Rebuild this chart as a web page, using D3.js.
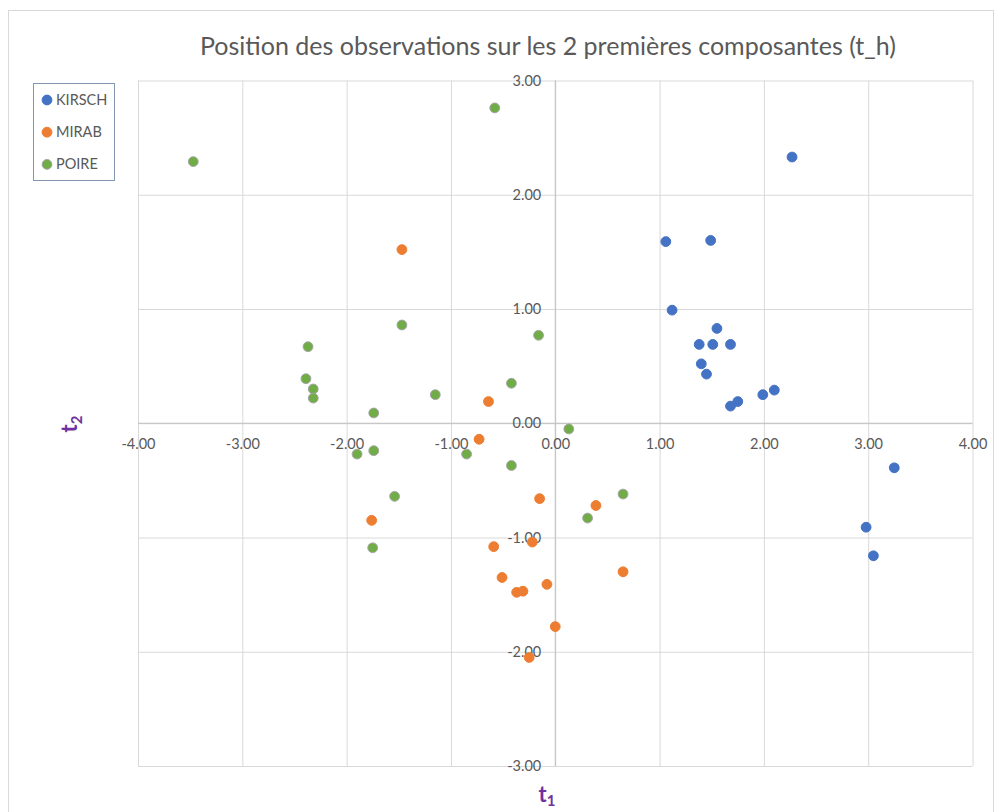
<!DOCTYPE html>
<html>
<head>
<meta charset="utf-8">
<script src="https://cdn.jsdelivr.net/npm/d3@7"></script>
<style>
  body { margin: 0; background: #fff; }
  text { font-family: Lato, "Open Sans", sans-serif; }
</style>
</head>
<body>
<svg id="chart" width="996" height="812"></svg>
<script>
var categories = ["KIRSCH", "MIRAB", "POIRE"];

var kirschT1 = [2.27, 1.06, 1.49, 1.12, 1.55, 1.38, 1.51, 1.68, 1.40, 1.45, 2.10, 1.99, 1.75, 1.68, 3.25, 2.98, 3.05];
var kirschT2 = [2.33, 1.59, 1.60, 0.99, 0.83, 0.69, 0.69, 0.69, 0.52, 0.43, 0.29, 0.25, 0.19, 0.15, -0.39, -0.91, -1.16];

var mirabT1 = [-1.47, -0.64, -0.73, -0.15, 0.39, -1.76, -0.59, -0.22, 0.65, -0.51, -0.08, -0.37, -0.31, 0.00, -0.25];
var mirabT2 = [1.52, 0.19, -0.14, -0.66, -0.72, -0.85, -1.08, -1.04, -1.30, -1.35, -1.41, -1.48, -1.47, -1.78, -2.05];

var poireT1 = [-3.47, -0.58, -1.47, -2.37, -2.39, -2.32, -2.32, -1.74, -1.74, -1.90, -0.16, -0.42, -1.15, 0.13, -0.85, -0.42, -1.54, -1.75, 0.31, 0.65];
var poireT2 = [2.29, 2.76, 0.86, 0.67, 0.39, 0.30, 0.22, 0.09, -0.24, -0.27, 0.77, 0.35, 0.25, -0.05, -0.27, -0.37, -0.64, -1.09, -0.83, -0.62];

var xTicks = [-4, -3, -2, -1, 0, 1, 2, 3, 4];
var yTicks = [-3, -2, -1, 0, 1, 2, 3];

var series = [
  { name: categories[0], t1: kirschT1, t2: kirschT2, fill: "#4472C4", stroke: "#4472C4" },
  { name: categories[1], t1: mirabT1, t2: mirabT2, fill: "#ED7D31", stroke: "#ED7D31" },
  { name: categories[2], t1: poireT1, t2: poireT2, fill: "#70AD47", stroke: "#A5A5A5" }
];

var svg = d3.select("#chart");
var plotLeft = 138, plotRight = 972.5, plotTop = 80.5, plotBottom = 766;

var x = d3.scaleLinear().domain([-4, 4]).range([plotLeft, plotRight]);
var y = d3.scaleLinear().domain([-3, 3]).range([plotBottom, plotTop]);
var fmt = d3.formatLocale({ decimal: ".", thousands: ",", grouping: [3], currency: ["", ""], minus: "-" }).format(".2f");

// chart frame
svg.append("rect")
  .attr("x", 8.5).attr("y", 10.5)
  .attr("width", 985).attr("height", 820)
  .attr("fill", "#fff").attr("stroke", "#D9D9D9");

// grid lines
svg.append("g")
  .attr("transform", "translate(0," + plotBottom + ")")
  .call(d3.axisBottom(x).tickValues(xTicks).tickSize(-(plotBottom - plotTop)).tickFormat(""))
  .call(function(g) { g.select(".domain").remove(); })
  .selectAll("line").attr("stroke", "#D9D9D9");

svg.append("g")
  .attr("transform", "translate(" + plotLeft + ",0)")
  .call(d3.axisLeft(y).tickValues(yTicks).tickSize(-(plotRight - plotLeft)).tickFormat(""))
  .call(function(g) { g.select(".domain").remove(); })
  .selectAll("line").attr("stroke", "#D9D9D9");

// zero axes
svg.append("line")
  .attr("x1", plotLeft).attr("x2", plotRight)
  .attr("y1", y(0)).attr("y2", y(0))
  .attr("stroke", "#BFBFBF");
svg.append("line")
  .attr("x1", x(0)).attr("x2", x(0))
  .attr("y1", plotTop).attr("y2", plotBottom)
  .attr("stroke", "#BFBFBF");

// tick labels
var xAxis = svg.append("g")
  .attr("transform", "translate(0," + y(0) + ")")
  .call(d3.axisBottom(x).tickValues(xTicks).tickSize(0).tickPadding(15).tickFormat(fmt));
xAxis.select(".domain").remove();
xAxis.selectAll("text")
  .style("font-family", "Lato, sans-serif").style("font-size", "14.5px").attr("fill", "#595959");

var yAxis = svg.append("g")
  .attr("transform", "translate(" + x(0) + ",0)")
  .call(d3.axisLeft(y).tickValues(yTicks).tickSize(0).tickPadding(14).tickFormat(fmt));
yAxis.select(".domain").remove();
yAxis.selectAll("text")
  .style("font-family", "Lato, sans-serif").style("font-size", "14.5px").attr("fill", "#595959");

// points
series.forEach(function(s) {
  svg.append("g")
    .selectAll("circle")
    .data(s.t1.map(function(v, i) { return [v, s.t2[i]]; }))
    .enter()
    .append("circle")
    .attr("cx", function(d) { return x(d[0]); })
    .attr("cy", function(d) { return y(d[1]); })
    .attr("r", 4.9)
    .attr("fill", s.fill)
    .attr("stroke", s.stroke)
    .attr("stroke-width", 1);
});

// title
svg.append("text")
  .attr("x", 548).attr("y", 55)
  .attr("text-anchor", "middle")
  .style("font-size", "25px")
  .attr("fill", "#595959")
  .text("Position des observations sur les 2 premières composantes (t_h)");

// axis titles
var t1 = svg.append("text")
  .attr("x", 547).attr("y", 802)
  .attr("text-anchor", "middle")
  .attr("fill", "#7030A0")
  .style("font-size", "22px").style("font-weight", "bold");
t1.append("tspan").text("t");
t1.append("tspan").attr("dy", 4).style("font-size", "15px").text("1");

var t2 = svg.append("text")
  .attr("transform", "translate(77,424) rotate(-90)")
  .attr("text-anchor", "middle")
  .attr("fill", "#7030A0")
  .style("font-size", "22px").style("font-weight", "bold");
t2.append("tspan").text("t");
t2.append("tspan").attr("dy", 5).style("font-size", "15px").text("2");

// legend
svg.append("rect")
  .attr("x", 33.5).attr("y", 83.5)
  .attr("width", 81).attr("height", 97)
  .attr("fill", "#fff").attr("stroke", "#8497B0");

var legend = svg.append("g")
  .selectAll("g")
  .data(series)
  .enter()
  .append("g")
  .attr("transform", function(d, i) { return "translate(47," + (100 + i * 32.2) + ")"; });

legend.append("circle")
  .attr("r", 4.9)
  .attr("fill", function(d) { return d.fill; })
  .attr("stroke", function(d) { return d.stroke; });

legend.append("text")
  .attr("x", 9).attr("dy", "0.35em")
  .style("font-size", "14.5px")
  .attr("fill", "#595959")
  .text(function(d) { return d.name; });
</script>
</body>
</html>
